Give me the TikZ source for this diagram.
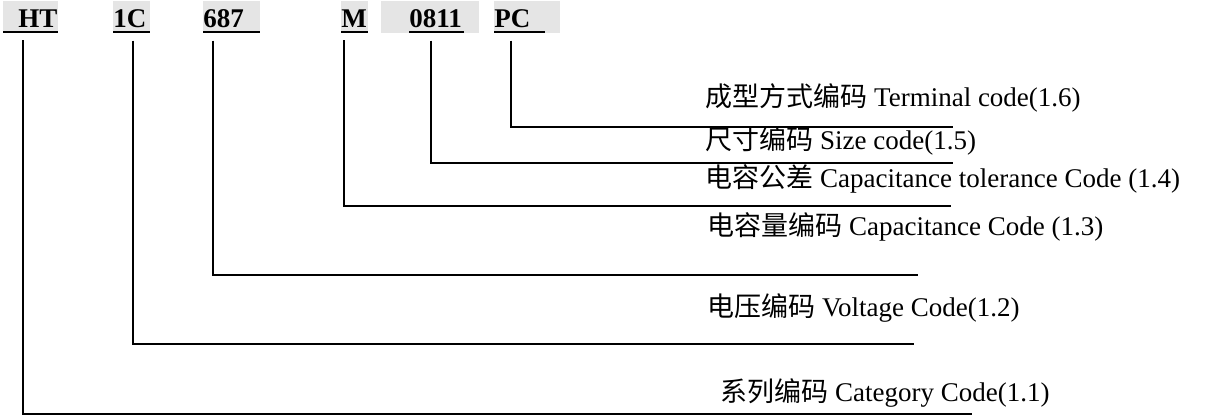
\documentclass[tikz,border=0pt]{standalone}
\usepackage{fontspec}
\setmainfont{Liberation Serif}
\newfontfamily\cjk{Noto Sans CJK SC}
\tikzset{
  code/.style={font=\fontsize{13.5}{16}\selectfont\bfseries, inner sep=0pt, anchor=base west},
  lbl/.style={font=\fontsize{13.5}{16}\selectfont, inner sep=0pt, anchor=west},
  codefill/.style={fill=black!10},
  lead/.style={line width=0.8pt},
  uline/.style={line width=1.2pt}
}

\begin{document}
\begin{tikzpicture}[x=0.5pt, y=-0.5pt]
  \useasboundingbox (0,0) rectangle (1208,415);
  % gray boxes behind the codes
  \foreach \xa/\xb in {3/58, 113/150, 203/260, 341/368, 381/479, 494/560}
    \fill[codefill] (\xa,1) rectangle (\xb,33);
  % code parts
  \node[code] (ht) at (18,28) {HT};
  \node[code] (1c) at (113,28) {1C};
  \node[code] (687) at (203,28) {687};
  \node[code] (m) at (341,28) {M};
  \node[code] (0811) at (409,28) {0811};
  \node[code] (pc) at (494,28) {PC};
  % underlines
  \foreach \xa/\xb in {3/58, 113/150, 203/260, 341/368, 409/464, 494/545}
    \draw[uline] (\xa,32) -- (\xb,32);
  % leaders
  \foreach \c/\dx/\xe/\ye in {ht/5/972/414, 1c/20/914/344, 687/10/918/275,
                              m/3/951/206, 0811/22/953/163, pc/17/953/127}{
    \coordinate (end-\c) at (\xe,\ye);
    \draw[lead] ([shift={(\dx,12)}]\c.south west) |- (end-\c);
  }
  % labels
  \node[lbl] (l16) at (705,98) {{\cjk 成型方式编码} Terminal code(1.6)};
  \node[lbl] (l15) at (705,141) {{\cjk 尺寸编码} Size code(1.5)};
  \node[lbl] (l14) at (705,179) {{\cjk 电容公差} Capacitance tolerance Code (1.4)};
  \node[lbl] (l13) at (707,227) {{\cjk 电容量编码} Capacitance Code (1.3)};
  \node[lbl] (l12) at (707,308) {{\cjk 电压编码} Voltage Code(1.2)};
  \node[lbl] (l11) at (720,393) {{\cjk 系列编码} Category Code(1.1)};
\end{tikzpicture}
\end{document}
